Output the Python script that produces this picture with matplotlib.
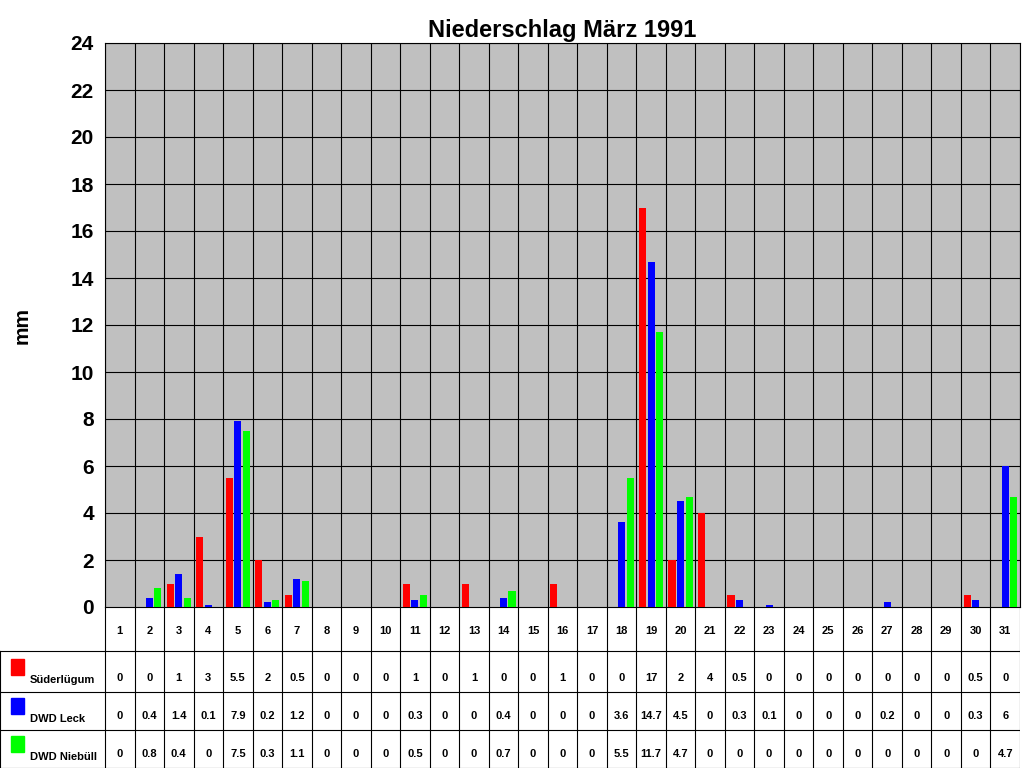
import matplotlib
matplotlib.use("Agg")
import matplotlib.pyplot as plt
import numpy as np

days = list(range(1, 32))
series_names = ["Süderlügum", "DWD Leck", "DWD Niebüll"]
suederluegum = [0, 0, 1, 3, 5.5, 2, 0.5, 0, 0, 0, 1, 0, 1, 0, 0, 1, 0, 0, 17, 2, 4, 0.5, 0, 0, 0, 0, 0, 0, 0, 0.5, 0]
leck = [0, 0.4, 1.4, 0.1, 7.9, 0.2, 1.2, 0, 0, 0, 0.3, 0, 0, 0.4, 0, 0, 0, 3.6, 14.7, 4.5, 0, 0.3, 0.1, 0, 0, 0, 0.2, 0, 0, 0.3, 6]
niebuell = [0, 0.8, 0.4, 0, 7.5, 0.3, 1.1, 0, 0, 0, 0.5, 0, 0, 0.7, 0, 0, 0, 5.5, 11.7, 4.7, 0, 0, 0, 0, 0, 0, 0, 0, 0, 0, 4.7]
colors = ["#FF0000", "#0000FF", "#00FF00"]
series = [suederluegum, leck, niebuell]

W, H = 1024, 768
fig = plt.figure(figsize=(W / 100, H / 100), dpi=100)
plt.rcParams['font.family'] = ['Liberation Sans', 'DejaVu Sans']

x0, x1 = 105, 1020
ytop, ybot = 43, 607
ax = fig.add_axes([x0 / W, 1 - ybot / H, (x1 - x0) / W, (ybot - ytop) / H])
ax.set_facecolor("#C0C0C0")
x = np.array(days)
bw = 0.24
for i, (vals, c) in enumerate(zip(series, colors)):
    ax.bar(x + (i - 1) * 0.29, vals, width=bw, color=c, zorder=3)
ax.set_xlim(0.5, 31.5)
ax.set_ylim(0, 24)
ax.set_yticks(range(0, 25, 2))
ax.set_yticklabels([str(v) for v in range(0, 25, 2)], fontsize=15, fontweight="bold")
ax.set_xticks([])
for k in range(32):
    ax.axvline(0.5 + k, color="black", lw=0.8, zorder=1)
for v in range(2, 25, 2):
    ax.axhline(v, color="black", lw=0.8, zorder=1)
for s in ax.spines.values():
    s.set_color("black")
ax.tick_params(axis="y", length=0, pad=8)
ax.set_ylabel("mm", fontsize=15, fontweight="bold", labelpad=28)
ax.set_title("Niederschlag März 1991", fontsize=17, fontweight="bold", pad=4)

# table below
dpx = (x1 - x0) / 31
tx = fig.add_axes([0, 0, x1 / W, 1 - ybot / H])
tx.set_xlim(0.5 - x0 / dpx, 31.5)
tx.set_ylim(0, 4)
tx.axis("off")
rows_y = [4, 2.9, 1.9, 0.95, 0]
left = 0.5 - x0 / dpx
for yy in rows_y[1:]:
    tx.plot([left, 31.5], [yy, yy], color="black", lw=0.8)
for k in range(32):
    tx.plot([0.5 + k, 0.5 + k], [0, 4], color="black", lw=0.8)
tx.plot([left, left], [0, 2.9], color="black", lw=0.8)
for d in days:
    tx.text(d, 3.4, str(d), ha="center", va="center", fontsize=8, fontweight="bold")
for r, (name, vals, c) in enumerate(zip(series_names, series, colors)):
    ybase = rows_y[r + 2]
    tx.text(left + 1.0, ybase + 0.15, name, ha="left", va="bottom", fontsize=8, fontweight="bold")
    tx.add_patch(plt.Rectangle((left + 0.38, ybase + 0.4), 0.45, 0.4, color=c))
    for d, v in zip(days, vals):
        tx.text(d, ybase + 0.22, f"{v:g}", ha="center", va="bottom", fontsize=8, fontweight="bold")

fig.savefig("out.png", dpi=100)
